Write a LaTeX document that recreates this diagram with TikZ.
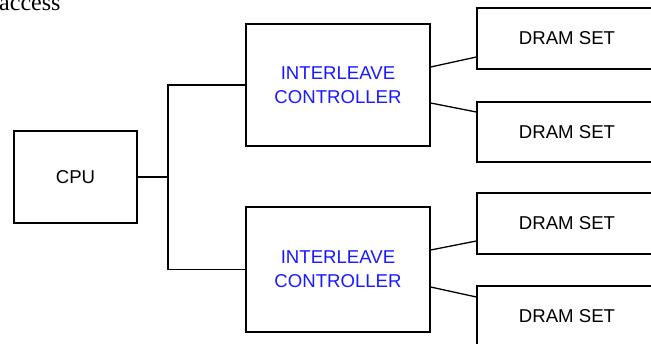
\documentclass[tikz,border=0pt]{standalone}
\usepackage{fontspec}
\setmainfont{Liberation Sans}
\newfontfamily\bodyserif{Liberation Serif}
\definecolor{ctrlblue}{RGB}{25,25,255}
\begin{document}
\begin{tikzpicture}[x=1pt,y=-1pt,
  unit/.style={draw=black, line width=1.3pt, inner sep=0pt, align=center,
    font=\fontsize{18.6pt}{24pt}\selectfont},
  ctrl/.style={unit, text=ctrlblue, minimum width=184pt},
  dram/.style={unit, minimum width=180pt, minimum height=61pt},
  wire/.style={line width=1.3pt}]
\useasboundingbox (0,0) rectangle (651,343);

% running text above the figure
\node[anchor=base west, inner sep=0pt, font=\bodyserif\fontsize{24pt}{28pt}\selectfont]
  (caption) at (-1,10) {access};

% processor
\node[unit, minimum width=123pt, minimum height=92pt] (cpu) at (75.5,177) {CPU};

% interleave controllers
\node[ctrl, minimum height=122pt] (ic1) at (338,85) {INTERLEAVE\\CONTROLLER};
\node[ctrl, minimum height=125pt] (ic2) at (338,269.5) {INTERLEAVE\\CONTROLLER};

% memory banks
\node[dram] (d1) at (567,38.5) {DRAM SET};
\node[dram, minimum height=60pt] (d2) at (567,132) {DRAM SET};
\node[dram] (d3) at (567,223.5) {DRAM SET};
\node[dram] (d4) at (567,316.5) {DRAM SET};

% bus from the processor to both controllers
\coordinate (bus) at (168,177);
\draw[wire] (cpu.east) -- (bus);
\draw[wire] (ic1.west) -| (bus) |- (ic2.west);

% controller to bank links
\draw[wire] ([yshift=18pt]ic1.east) -- ([yshift=-18.5pt]d1.west);
\draw[wire] ([yshift=-18pt]ic1.east) -- ([yshift=20pt]d2.west);
\draw[wire] ([yshift=19.5pt]ic2.east) -- ([yshift=-17.5pt]d3.west);
\draw[wire] ([yshift=-17.5pt]ic2.east) -- ([yshift=19.5pt]d4.west);
\end{tikzpicture}
\end{document}
